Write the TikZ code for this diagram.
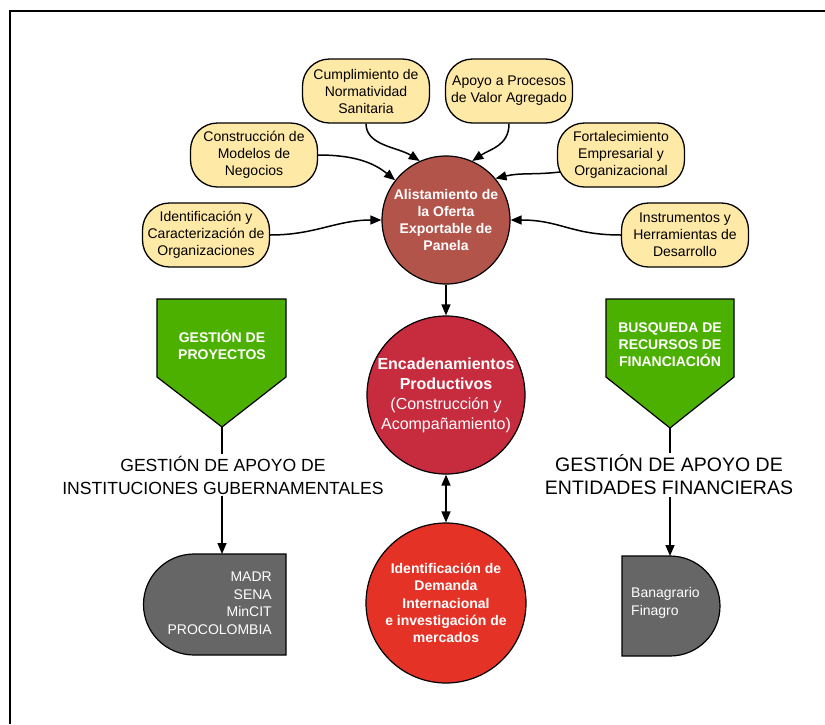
\documentclass[tikz,border=0pt]{standalone}
\usepackage{fontspec}
\setmainfont{Liberation Sans}
\usepackage{xcolor}
\usepackage{tikz}
\usetikzlibrary{arrows.meta,positioning,calc}
\definecolor{pyellow}{RGB}{255,233,166}
\definecolor{pbrown}{RGB}{178,84,74}
\definecolor{pcrimson}{RGB}{199,44,62}
\definecolor{pred}{RGB}{228,50,38}
\definecolor{pgreen}{RGB}{76,176,0}
\definecolor{pgrey}{RGB}{102,102,102}
\tikzset{
  bubble/.style ={rectangle, rounded corners=27pt, draw=black, line width=1.3pt,
                  fill=pyellow, minimum width=127pt, minimum height=64pt,
                  inner sep=0pt, align=center, font=\fontsize{14}{17}\selectfont},
  hub/.style    ={circle, draw=black, line width=1.2pt, inner sep=0pt,
                  align=center, text=white},
  penta/.style  ={fill=pgreen, draw=black, line width=1.2pt},
  ptxt/.style   ={align=center, text=white, font=\fontsize{14}{17}\selectfont\bfseries},
  dbox/.style   ={fill=pgrey, draw=black, line width=1.2pt},
  gtxt/.style   ={text=white, inner sep=0pt, font=\fontsize{14}{17.5}\selectfont},
  ar/.style     ={-{Triangle[length=11pt,width=9pt]}, line width=1.5pt},
  dar/.style    ={{Triangle[length=11pt,width=9pt]}-{Triangle[length=11pt,width=9pt]}, line width=1.5pt},
  lnk/.style    ={line width=1.5pt},
  lbl/.style    ={align=center, inner sep=2pt}
}

\begin{document}
\begin{tikzpicture}[x=1pt,y=-1pt]
\useasboundingbox (0,0) rectangle (825,724);
\draw[line width=2.2pt] (10,724) |- (825,11);

% central chain
\node[hub, fill=pbrown, minimum size=128pt, font=\fontsize{14}{17}\selectfont\bfseries]
  (alist) at (446,220) {Alistamiento de\\la Oferta\\Exportable de\\Panela};
\node[hub, fill=pcrimson, minimum size=158pt, font=\fontsize{16}{20}\selectfont]
  (enc) at (446,395) {\textbf{Encadenamientos}\\\textbf{Productivos}\\(Construcción y\\Acompañamiento)};
\node[hub, fill=pred, minimum size=160pt, font=\fontsize{14}{17.3}\selectfont\bfseries]
  (dem) at (446,603) {Identificación de\\Demanda\\Internacional\\e investigación de\\mercados};

% bubbles
\node[bubble] (cum)  at (366,91)  {Cumplimiento de\\Normatividad\\Sanitaria};
\node[bubble] (cons) at (254,155) {Construcción de\\Modelos de\\Negocios};
\node[bubble] (ide)  at (206,235) {Identificación y\\Caracterización de\\Organizaciones};
\node[bubble] (apo)  at (509,91)  {Apoyo a Procesos\\de Valor Agregado};
\node[bubble] (fort) at (621,155) {Fortalecimiento\\Empresarial y\\Organizacional};
\node[bubble] (ins)  at (685,235) {Instrumentos y\\Herramientas de\\Desarrollo};

\draw[ar] (cum.south) .. controls +(0,22) and +(-22,-14) .. (alist.114);
\draw[ar] (cons.east) .. controls +(35,0) and +(-22,-18) .. (alist.142);
\draw[ar] (ide.east) .. controls +(45,0) and +(-45,0) .. (alist.west);
\draw[ar] (apo.south) .. controls +(0,22) and +(18,-12) .. (alist.66);
\draw[ar] ($(fort.west)+(3,17)$) .. controls +(-25,3) and +(25,-6) .. (alist.40);
\draw[ar] (ins.west) .. controls +(-50,0) and +(50,0) .. (alist.east);

\draw[ar] (alist) -- (enc);
\draw[dar] (enc) -- (dem);

% left column
\draw[penta] (157,299) -- (286,299) -- (286,377) -- (222,427) coordinate (gptip)
  -- (157,377) -- cycle;
\node[ptxt] (gp) at (222,345) {GESTIÓN DE\\PROYECTOS};
\node[lbl, font=\fontsize{17.6}{23}\selectfont] (gov) at (223,475)
  {GESTIÓN DE APOYO DE\\INSTITUCIONES GUBERNAMENTALES};
\draw[dbox] (286,554) -- (222,554) coordinate (gtop) -- (194,554)
  arc[start angle=90, end angle=270, radius=50.5pt] -- (286,655) -- cycle;
\node[gtxt, align=right, anchor=east] (madr) at (272,603)
  {MADR\\SENA\\MinCIT\\PROCOLOMBIA};
\draw[lnk] (gptip) -- (gptip |- gov.north);
\draw[ar] (gptip |- gov.south) -- (gtop);

% right column
\draw[penta] (606,299) -- (734,299) -- (734,377) -- (670,428) coordinate (bftip)
  -- (606,377) -- cycle;
\node[ptxt] (bf) at (670,345) {BUSQUEDA DE\\RECURSOS DE\\FINANCIACIÓN};
\node[lbl, font=\fontsize{19.5}{23}\selectfont] (fin) at (669,475)
  {GESTIÓN DE APOYO DE\\ENTIDADES FINANCIERAS};
\draw[dbox] (622,556) -- (670,556) coordinate (btop)
  arc[start angle=90, end angle=-90, radius=50pt] -- (622,656) -- cycle;
\node[gtxt, align=left, anchor=west] (bana) at (631,603) {Banagrario\\Finagro};
\draw[lnk] (bftip) -- (bftip |- fin.north);
\draw[ar] (bftip |- fin.south) -- (btop);
\end{tikzpicture}
\end{document}
